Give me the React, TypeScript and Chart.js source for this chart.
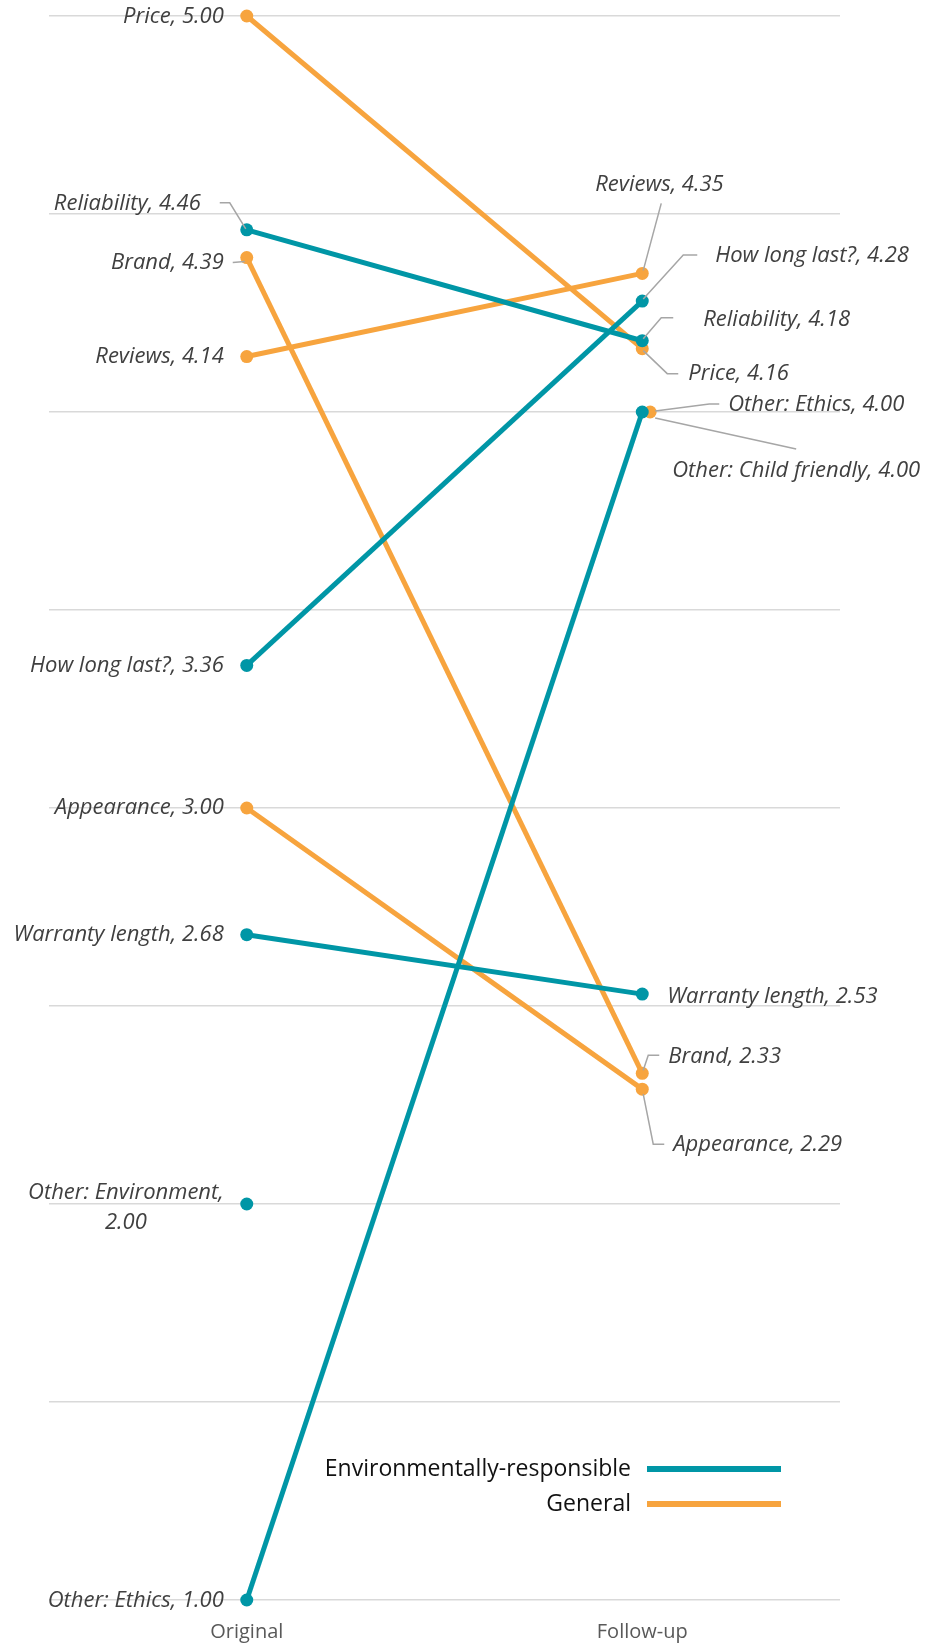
import React, { useEffect, useRef } from 'react';
import { Chart, registerables } from 'chart.js';

Chart.register(...registerables);

// ---- data ----
const stages = ['Original', 'Follow-up'];
const seriesNames = ['Environmentally-responsible', 'General'];
const seriesColors = ['#0096A6', '#F7A43E'];

const envItems = ['Reliability', 'How long last?', 'Warranty length', 'Other: Environment', 'Other: Ethics'];
const envOriginal = [4.46, 3.36, 2.68, 2.0, 1.0];
const envFollowUp = [4.18, 4.28, 2.53, null, 4.0];
const envFollowX = [1, 1, 1, 1, 1];

const genItems = ['Price', 'Brand', 'Reviews', 'Appearance', 'Other: Child friendly'];
const genOriginal = [5.0, 4.39, 4.14, 3.0, null];
const genFollowUp = [4.16, 2.33, 4.35, 2.29, 4.0];
const genFollowX = [1, 1, 1, 1, 1.02];

const yMin = 1;
const yMax = 5;
const yStep = 0.5;

// ---- label layout (offsets from the point, in px) ----
type Spec = { dx: number; dy: number; align: 'left' | 'right' | 'block'; leader?: number[][] } | null;

const envOriginalLabels: Spec[] = [
  { dx: -46, dy: -26, align: 'right', leader: [[-27, -27], [-17, -27], [-1, -1]] },
  { dx: -23, dy: 0, align: 'right' },
  { dx: -23, dy: 0, align: 'right' },
  { dx: -23, dy: -11, align: 'block' },
  { dx: -23, dy: 1, align: 'right' },
];
const envFollowLabels: Spec[] = [
  { dx: 61, dy: -21, align: 'left', leader: [[31, -23], [19, -23], [1, -2]] },
  { dx: 73, dy: -45, align: 'left', leader: [[55, -46], [41, -46], [1, -2]] },
  { dx: 25, dy: 3, align: 'left' },
  null,
  { dx: 86, dy: -7, align: 'left', leader: [[13, -1], [67, -8], [77, -8]] },
];
const genOriginalLabels: Spec[] = [
  { dx: -23, dy: 1, align: 'right' },
  { dx: -23, dy: 5, align: 'right', leader: [[-14, 5], [-2, 4]] },
  { dx: -23, dy: 0, align: 'right' },
  { dx: -23, dy: 0, align: 'right' },
  null,
];
const genFollowLabels: Spec[] = [
  { dx: 46, dy: 25, align: 'left', leader: [[1, 2], [25, 25], [36, 25]] },
  { dx: 26, dy: -17, align: 'left', leader: [[17, -18], [6, -18], [1, -3]] },
  { dx: -47, dy: -89, align: 'left', leader: [[19, -70], [1, -3]] },
  { dx: 31, dy: 56, align: 'left', leader: [[1, 5], [11, 55], [22, 55]] },
  { dx: 22, dy: 59, align: 'left', leader: [[5, 6], [146, 37]] },
];

const FONT = '"Open Sans", Lato, sans-serif';
const LABEL_COLOR = '#404040';
const LEADER_COLOR = '#A6A6A6';

function buildDatasets() {
  const sets: any[] = [];
  const groups = [
    { items: envItems, orig: envOriginal, fol: envFollowUp, fx: envFollowX, lo: envOriginalLabels, lf: envFollowLabels, g: 0 },
    { items: genItems, orig: genOriginal, fol: genFollowUp, fx: genFollowX, lo: genOriginalLabels, lf: genFollowLabels, g: 1 },
  ];
  groups.forEach((grp) => {
    grp.items.forEach((item, i) => {
      const data: any[] = [];
      const specs: Spec[] = [];
      if (grp.orig[i] != null) {
        data.push({ x: 0, y: grp.orig[i] });
        specs.push(grp.lo[i]);
      }
      if (grp.fol[i] != null) {
        data.push({ x: grp.fx[i], y: grp.fol[i] });
        specs.push(grp.lf[i]);
      }
      sets.push({
        label: item,
        data,
        group: grp.g,
        specs,
        order: grp.g,
        borderColor: seriesColors[grp.g],
        backgroundColor: seriesColors[grp.g],
        borderWidth: 5,
        pointRadius: 6.5,
        pointBorderWidth: 0,
        pointHoverRadius: 6.5,
        showLine: true,
        clip: false,
      });
    });
  });
  return sets;
}

const labelPlugin = {
  id: 'slopeLabels',
  afterDatasetsDraw(chart: any) {
    const ctx = chart.ctx;
    ctx.save();
    chart.data.datasets.forEach((ds: any, di: number) => {
      const meta = chart.getDatasetMeta(di);
      meta.data.forEach((pt: any, pi: number) => {
        const spec: Spec = ds.specs[pi];
        if (!spec) return;
        const v = ds.data[pi].y as number;
        const px = pt.x;
        const py = pt.y;
        if (spec.leader) {
          ctx.beginPath();
          ctx.strokeStyle = LEADER_COLOR;
          ctx.lineWidth = 1.5;
          spec.leader.forEach((p, k) => {
            if (k === 0) ctx.moveTo(px + p[0], py + p[1]);
            else ctx.lineTo(px + p[0], py + p[1]);
          });
          ctx.stroke();
        }
        ctx.font = `italic 22px ${FONT}`;
        ctx.fillStyle = LABEL_COLOR;
        ctx.textBaseline = 'middle';
        const text = `${ds.label}, ${v.toFixed(2)}`;
        if (spec.align === 'block') {
          const lines = [`${ds.label},`, v.toFixed(2)];
          const w = Math.max(...lines.map((l) => ctx.measureText(l).width));
          const cx = px + spec.dx - w / 2;
          ctx.textAlign = 'center';
          lines.forEach((l, k) => ctx.fillText(l, cx, py + spec.dy + k * 30));
        } else {
          ctx.textAlign = spec.align;
          ctx.fillText(text, px + spec.dx, py + spec.dy);
        }
      });
    });
    ctx.restore();
  },
};

const legendPlugin = {
  id: 'slopeLegend',
  afterDraw(chart: any) {
    const ctx = chart.ctx;
    const area = chart.chartArea;
    ctx.save();
    seriesNames.forEach((name, i) => {
      const y = area.bottom - 131 + i * 35;
      ctx.font = `23px ${FONT}`;
      ctx.fillStyle = '#111111';
      ctx.textAlign = 'right';
      ctx.textBaseline = 'middle';
      ctx.fillText(name, area.right - 209, y);
      ctx.beginPath();
      ctx.strokeStyle = seriesColors[i];
      ctx.lineWidth = 6;
      ctx.moveTo(area.right - 193, y);
      ctx.lineTo(area.right - 59, y);
      ctx.stroke();
    });
    ctx.restore();
  },
};

export default function App() {
  const ref = useRef<HTMLCanvasElement>(null);
  useEffect(() => {
    const chart = new Chart(ref.current as HTMLCanvasElement, {
      type: 'scatter',
      data: { datasets: buildDatasets() },
      options: {
        animation: false,
        responsive: false,
        devicePixelRatio: 1,
        layout: { padding: { left: 49, right: 86, top: 16, bottom: 0 } },
        plugins: { legend: { display: false }, tooltip: { enabled: false } },
        scales: {
          x: {
            type: 'linear',
            min: -0.5,
            max: 1.5,
            afterBuildTicks: (scale: any) => {
              scale.ticks = stages.map((_, i) => ({ value: i }));
            },
            ticks: {
              callback: (v: any) => stages[v as number] ?? '',
              color: '#595959',
              font: { family: FONT, size: 20 },
              padding: 20,
              autoSkip: false,
              maxRotation: 0,
            },
            grid: { display: false, drawTicks: false },
            border: { display: false },
            afterFit: (scale: any) => {
              scale.height = 45;
            },
          },
          y: {
            type: 'linear',
            min: yMin,
            max: yMax,
            ticks: { display: false, stepSize: yStep },
            grid: { color: '#D9D9D9', lineWidth: 1.5, drawTicks: false },
            border: { display: false },
            afterFit: (scale: any) => {
              scale.width = 0;
            },
          },
        },
      },
      plugins: [labelPlugin, legendPlugin],
    } as any);
    if ((document as any).fonts) {
      Promise.all([
        (document as any).fonts.load(`italic 22px "Open Sans"`),
        (document as any).fonts.load(`23px "Open Sans"`),
      ]).then(() => chart.update());
    }
    return () => chart.destroy();
  }, []);
  return (
    <div style={{ position: 'absolute', left: 0, top: 0, width: 926, height: 1645, background: '#fff' }}>
      <canvas ref={ref} width={926} height={1645} style={{ display: 'block', width: 926, height: 1645 }} />
    </div>
  );
}
